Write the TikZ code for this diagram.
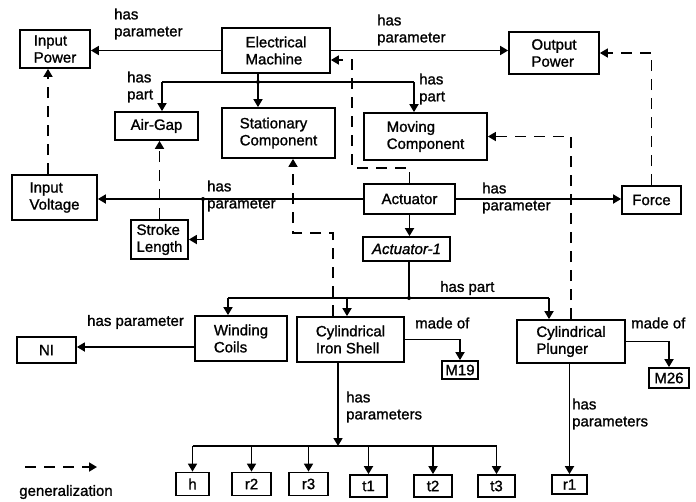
\documentclass[tikz,border=0pt]{standalone}
\usepackage{fontspec}
\setmainfont{Liberation Sans}[BoldFont=Liberation Sans, BoldFeatures={FakeBold=1.2}, BoldItalicFont=Liberation Sans Italic, BoldItalicFeatures={FakeBold=1.2}]
\usetikzlibrary{arrows.meta}
\newcommand{\lbfont}{\fontsize{15}{17}\selectfont\bfseries}
\begin{document}
\begin{tikzpicture}[x=1pt,y=-1pt,
  box/.style={draw, line width=1.8pt, inner sep=0pt, align=left, font=\lbfont},
  lbl/.style={inner sep=0pt, anchor=west, align=left, font=\lbfont},
  conn/.style={line width=1.7pt},
  arr/.style={conn, -{Triangle[length=8pt,width=9pt]}},
  gen/.style={arr, dash pattern=on 11pt off 8pt},
  jdot/.style={circle, fill, inner sep=0pt, minimum size=4pt}]
\useasboundingbox (0,0) rectangle (696,501);

% ---- concepts ----
\node[box, minimum width=70pt,  minimum height=38pt] (inpower)  at (55,49)     {Input\\Power};
\node[box, minimum width=108pt, minimum height=45pt] (elmach)   at (276,50.5)  {Electrical\\Machine};
\node[box, minimum width=90pt,  minimum height=42pt] (outpower) at (554,53)    {Output\\Power};
\node[box, minimum width=83pt,  minimum height=28pt] (airgap)   at (156.5,126) {Air-Gap};
\node[box, minimum width=113pt, minimum height=50pt] (stat)     at (278.5,133) {Stationary\\Component};
\node[box, minimum width=123pt, minimum height=47pt] (moving)   at (425.5,136.5) {Moving\\Component};
\node[box, minimum width=85pt,  minimum height=45pt] (involt)   at (54.5,197.5) {Input\\Voltage};
\node[box, minimum width=57pt,  minimum height=39pt] (stroke)   at (159.5,239.5) {Stroke\\Length};
\node[box, minimum width=91pt,  minimum height=30pt] (actuator) at (409.5,199) {Actuator};
\node[box, minimum width=59pt,  minimum height=28pt] (force)    at (651.5,200) {Force};
\node[box, minimum width=87pt,  minimum height=24pt, font=\lbfont\itshape] (act1) at (406.5,249) {Actuator-1};
\node[box, minimum width=92pt,  minimum height=45pt] (winding)  at (241,338.5) {Winding\\Coils};
\node[box, minimum width=107pt, minimum height=45pt] (shell)    at (350.5,339.5) {Cylindrical\\Iron Shell};
\node[box, minimum width=108pt, minimum height=43pt] (plunger)  at (571,341.5) {Cylindrical\\Plunger};
\node[box, minimum width=59pt,  minimum height=26pt] (ni)       at (46.5,350)  {NI};
\node[box, minimum width=36pt,  minimum height=18pt] (m19)      at (460,370)   {M19};
\node[box, minimum width=40pt,  minimum height=20pt] (m26)      at (669,378)   {M26};
\node[box, minimum width=33pt,  minimum height=23pt] (h)        at (192.5,484) {h};
\node[box, minimum width=39pt,  minimum height=23pt] (r2)       at (251.5,484) {r2};
\node[box, minimum width=39pt,  minimum height=23pt] (r3)       at (308.5,484) {r3};
\node[box, minimum width=37pt,  minimum height=22pt] (t1)       at (368.5,486) {t1};
\node[box, minimum width=38pt,  minimum height=22pt] (t2)       at (433,486)   {t2};
\node[box, minimum width=37pt,  minimum height=22pt] (t3)       at (496.5,486) {t3};
\node[box, minimum width=35pt,  minimum height=19pt] (r1)       at (569.5,484.5) {r1};

% ---- relation labels ----
\node[lbl] (l1)  at (114,24)  {has\\parameter};
\node[lbl] (l2)  at (377,30)  {has\\parameter};
\node[lbl] (l3)  at (127,87)  {has\\part};
\node[lbl] (l4)  at (419,89)  {has\\part};
\node[lbl] (l5)  at (207,196) {has\\parameter};
\node[lbl] (l6)  at (482,198) {has\\parameter};
\node[lbl] (l7)  at (440,288) {has part};
\node[lbl] (l8)  at (87,322)  {has parameter};
\node[lbl] (l9)  at (415,323) {made of};
\node[lbl] (l10) at (631,323) {made of};
\node[lbl] (l11) at (346,407) {has\\parameters};
\node[lbl] (l12) at (572,414) {has\\parameters};

% ---- bend and junction points ----
\coordinate (emj) at (258,82);
\coordinate (pa1) at (162,82);
\coordinate (pa2) at (414,82);
\coordinate (pj)  at (203,199);
\coordinate (hp)  at (409,298);
\coordinate (hpw) at (228,298);
\coordinate (hps) at (347,298);
\coordinate (hpp) at (549,298);
\coordinate (sp)  at (338,446);
\coordinate (gx1) at (48,0);
\coordinate (g4)  at (352,168);
\coordinate (g5a) at (333,233);
\coordinate (g5b) at (293,233);

% ---- has parameter ----
\draw[arr] (elmach.west) -- (elmach.west -| inpower.east);
\draw[arr] (elmach.east) -- (elmach.east -| outpower.west);
\draw[arr] (actuator.west) -- (actuator.west -| involt.east);
\draw[arr] (pj) |- (stroke.east);
\node[jdot] (pjd) at (pj) {};
\draw[arr] (actuator.east) -- (actuator.east -| force.west);
\draw[arr] ([yshift=3pt]ni.east -| winding.west) -- ([yshift=3pt]ni.east);

% ---- has part (electrical machine) ----
\draw[conn] (pa1) -- (pa2);
\draw[arr] (elmach.south -| emj) -- (emj |- stat.north);
\node[jdot] (emd) at (emj) {};
\draw[arr] (pa1) -- (pa1 |- airgap.north);
\draw[arr] (pa2) -- (pa2 |- moving.north);

% ---- actuator instance and its parts ----
\draw[arr] (actuator.south) -- (actuator.south |- act1.north);
\draw[conn] (act1.south -| hp) -- (hp);
\draw[conn] (hpw) -- (hpp);
\node[jdot] (hpd) at (hp) {};
\draw[arr] (hpw) -- (hpw |- winding.north);
\draw[arr] (hps) -- (hps |- shell.north);
\draw[arr] (hpp) -- (hpp |- plunger.north);

% ---- made of ----
\draw[arr] (shell.east) -| (m19.north);
\draw[arr] (plunger.east) -| (m26.north);

% ---- has parameters ----
\draw[arr] (shell.south -| sp) -- (sp);
\draw[conn] (h.north |- sp) -- (t3.north |- sp);
\foreach \p in {h,r2,r3,t1,t2,t3}
  \draw[arr] (\p.north |- sp) -- (\p.north);
\draw[arr] (r1.north |- plunger.south) -- (r1.north);

% ---- generalization ----
\draw[gen] (involt.north -| gx1) -- (inpower.south -| gx1);
\draw[gen] (stroke.north) -- (stroke.north |- airgap.south);
\draw[gen] (force.north) |- (outpower.east);
\draw[gen] (actuator.north) |- (g4) |- ([yshift=-9.5pt]elmach.east);
\draw[gen] (shell.north -| g5a) -- (g5a) -- (g5b) -- (g5b |- stat.south);
\draw[gen] (plunger.north) |- (moving.east);

% ---- legend ----
\coordinate (lg1) at (25,467);
\coordinate (lg2) at (97,467);
\draw[gen] (lg1) -- (lg2);
\node[font=\lbfont, inner sep=0pt] (lgt) at (66,492) {generalization};
\end{tikzpicture}
\end{document}
